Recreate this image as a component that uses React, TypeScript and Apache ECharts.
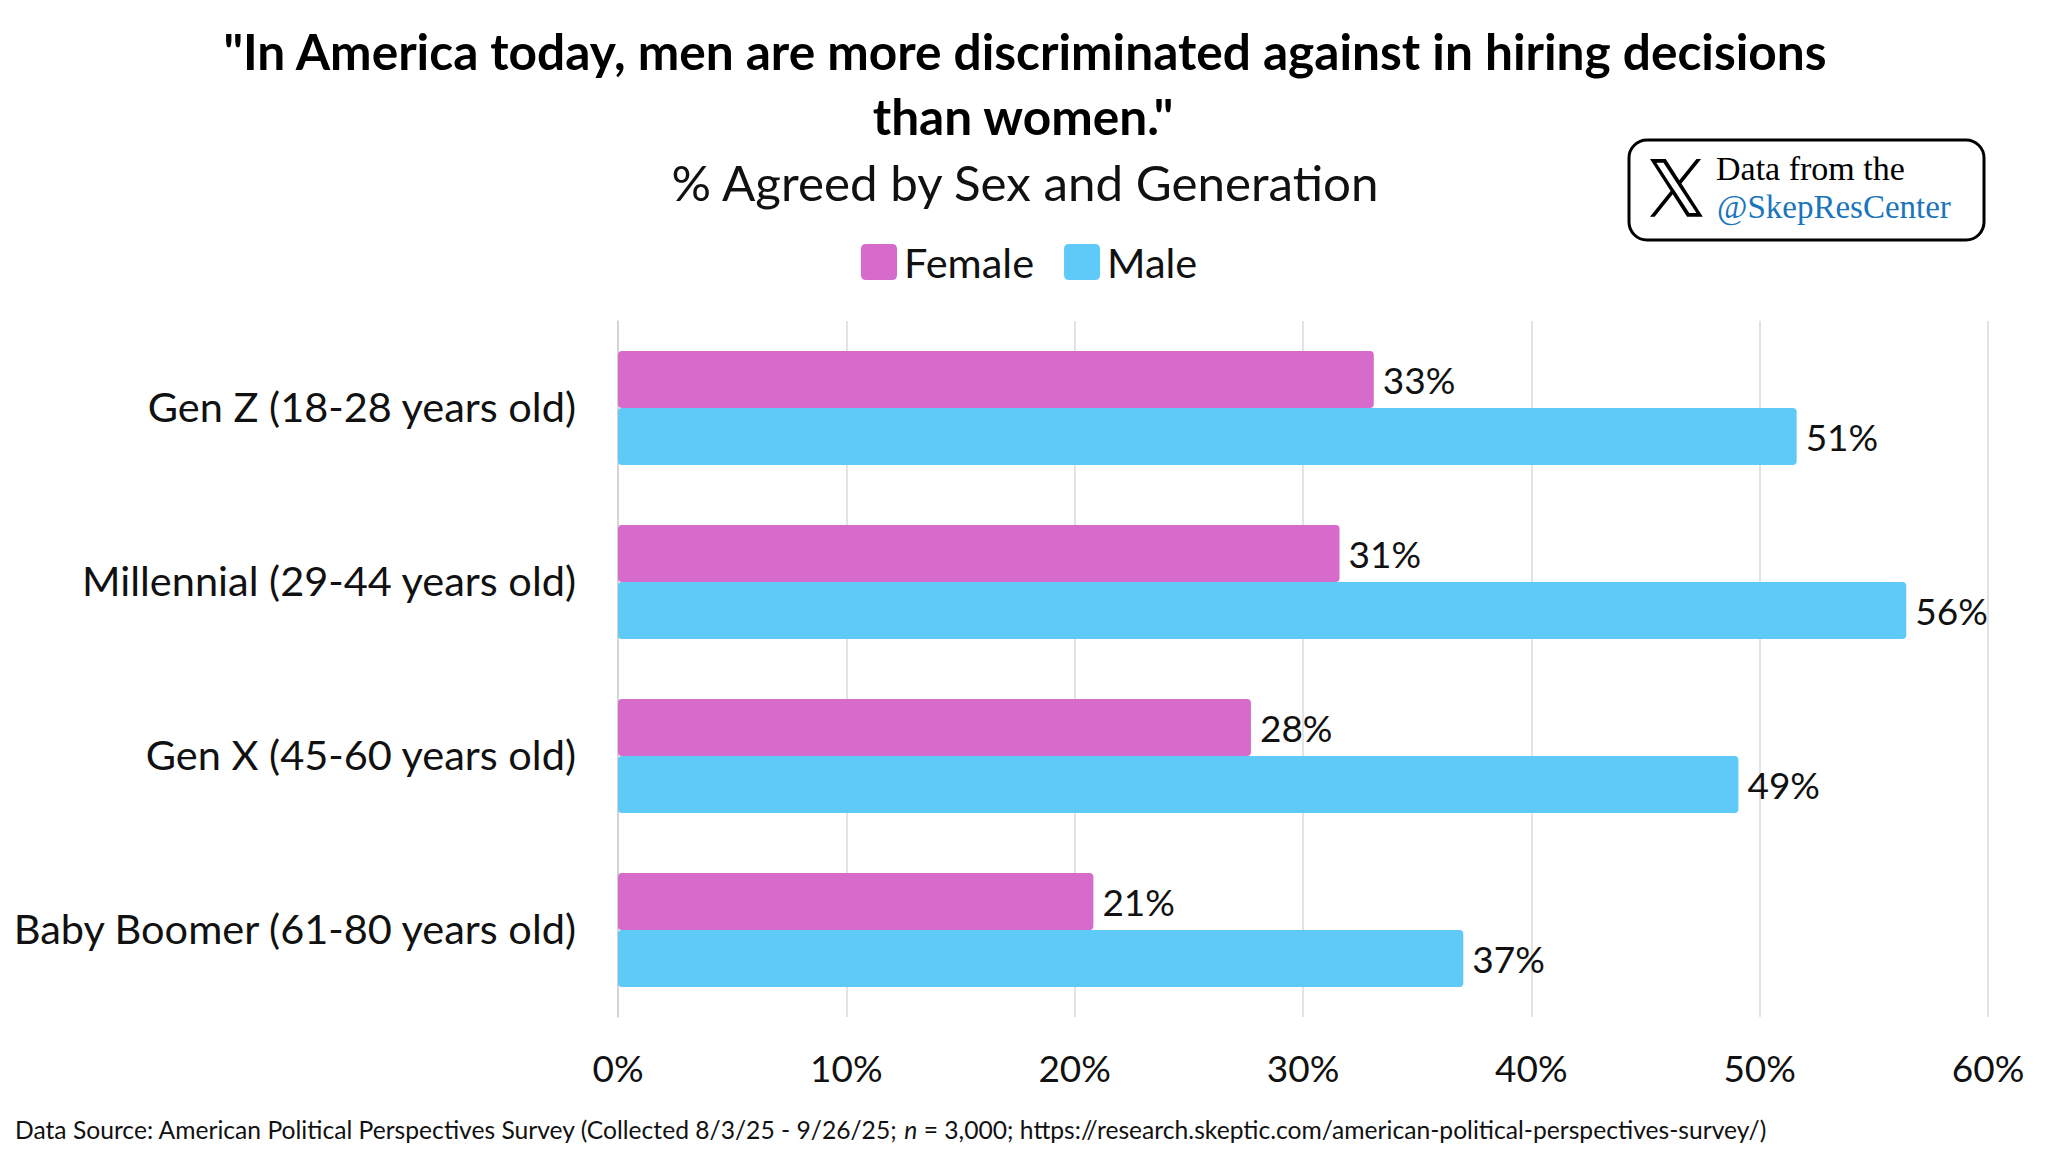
import React, { useEffect, useRef } from "react";
import * as echarts from "echarts";

const categories = [
  "Gen Z (18-28 years old)",
  "Millennial (29-44 years old)",
  "Gen X (45-60 years old)",
  "Baby Boomer (61-80 years old)",
];
const femaleValues = [33.1, 31.6, 27.72, 20.82];
const maleValues = [51.62, 56.42, 49.07, 37.02];
const femaleLabels = ["33%", "31%", "28%", "21%"];
const maleLabels = ["51%", "56%", "49%", "37%"];
const titleLine1 = '"In America today, men are more discriminated against in hiring decisions';
const titleLine2 = 'than women."';
const subtitle = "% Agreed by Sex and Generation";
const FONT = "Lato";
const SERIF = "Liberation Serif";
const FEMALE = "#D66BCC";
const MALE = "#5FC9F8";

const X_PATH =
  "M714.163 519.284L1160.89 0H1055.03L667.137 450.887L357.328 0H0L468.492 681.821L0 1226.37H105.866L515.491 750.218L842.672 1226.37H1200L714.137 519.284H714.163ZM569.165 687.828L521.697 619.934L144.011 79.6944H306.615L611.412 515.685L658.88 583.579L1055.08 1150.3H892.476L569.165 687.854V687.828Z";
echarts.graphic.registerShape("xlogo", echarts.graphic.extendPath(X_PATH, {}) as any);

const SWATCH_ICON =
  "path://M5 0H31Q36 0 36 5V31Q36 36 31 36H5Q0 36 0 31V5Q0 0 5 0Z";

export default function App() {
  const ref = useRef<HTMLDivElement>(null);
  useEffect(() => {
    const chart = echarts.init(ref.current!, undefined, { renderer: "svg" });
    const labelFor = (arr: string[]) => ({
      show: true,
      position: "right" as const,
      distance: 9,
      fontFamily: FONT,
      fontSize: 37,
      color: "#111",
      formatter: (p: any) => arr[p.dataIndex],
    });
    chart.setOption({
      animation: false,
      backgroundColor: "#fff",
      textStyle: { fontFamily: FONT },
      title: [
        { text: titleLine1, left: 1025, top: 26, padding: 0, textAlign: "center", textStyle: { fontFamily: FONT, fontSize: 49.6, fontWeight: "bold", color: "#000" } },
        { text: titleLine2, left: 1023, top: 91, padding: 0, textAlign: "center", textStyle: { fontFamily: FONT, fontSize: 49.6, fontWeight: "bold", color: "#000" } },
        { text: subtitle, left: 1025, top: 157, padding: 0, textAlign: "center", textStyle: { fontFamily: FONT, fontSize: 49.3, fontWeight: "normal", color: "#111" } },
      ],
      legend: {
        top: 241,
        left: 861,
        padding: 0,
        itemWidth: 36,
        itemHeight: 36,
        itemGap: 30,
        icon: SWATCH_ICON,
        selectedMode: false,
        textStyle: { fontFamily: FONT, fontSize: 41.5, color: "#111", padding: [0, 0, 0, 2] },
        data: ["Female", "Male"],
      },
      grid: { left: 618, top: 321, width: 1370, height: 696 },
      xAxis: {
        type: "value",
        min: 0,
        max: 60,
        interval: 10,
        axisLine: { show: false },
        axisTick: { show: false },
        splitLine: { show: true, lineStyle: { color: "#DADADA", width: 1.5 } },
        axisLabel: { formatter: "{value}%", fontFamily: FONT, fontSize: 37, color: "#111", margin: 32 },
      },
      yAxis: {
        type: "category",
        inverse: true,
        data: categories,
        axisLine: { show: true, lineStyle: { color: "#CFCFCF", width: 1.5 } },
        axisTick: { show: false },
        axisLabel: {
          margin: 42,
          formatter: "{c|{value}}",
          rich: { c: { fontFamily: FONT, fontSize: 41.5, color: "#111", padding: [0, 0, 5, 0] } },
        },
      },
      series: [
        {
          name: "Female",
          type: "bar",
          data: femaleValues,
          barWidth: 57,
          barGap: 0,
          itemStyle: { color: FEMALE, borderRadius: 4 },
          label: labelFor(femaleLabels),
        },
        {
          name: "Male",
          type: "bar",
          data: maleValues,
          barWidth: 57,
          barGap: 0,
          itemStyle: { color: MALE, borderRadius: 4 },
          label: labelFor(maleLabels),
        },
      ],
      graphic: [
        { type: "rect", shape: { x: 1629, y: 140, width: 355, height: 100, r: 18 }, style: { fill: "#fff", stroke: "#000", lineWidth: 3 } },
        { type: "xlogo", x: 1650, y: 159, scaleX: 0.0442, scaleY: 0.0473, style: { fill: "#000" } },
        { type: "text", x: 1716, y: 151, style: { text: "Data from the", fontFamily: SERIF, fontSize: 34, fill: "#000" } },
        { type: "text", x: 1717, y: 190, style: { text: "@SkepResCenter", fontFamily: SERIF, fontSize: 33, fill: "#1A75BB" } },
        {
          type: "text",
          x: 15,
          y: 1117,
          style: {
            text: "{a|Data Source: American Political Perspectives Survey (Collected 8/3/25 - 9/26/25; }{i|n}{a| = 3,000; https://research.skeptic.com/american-political-perspectives-survey/)}",
            rich: {
              a: { fontFamily: FONT, fontSize: 24.65, fill: "#111" },
              i: { fontFamily: FONT, fontSize: 24.65, fontStyle: "italic", fill: "#111" },
            },
          },
        },
      ],
    });
    return () => chart.dispose();
  }, []);
  return <div ref={ref} style={{ position: "absolute", left: 0, top: 0, width: 2048, height: 1152 }} />;
}
